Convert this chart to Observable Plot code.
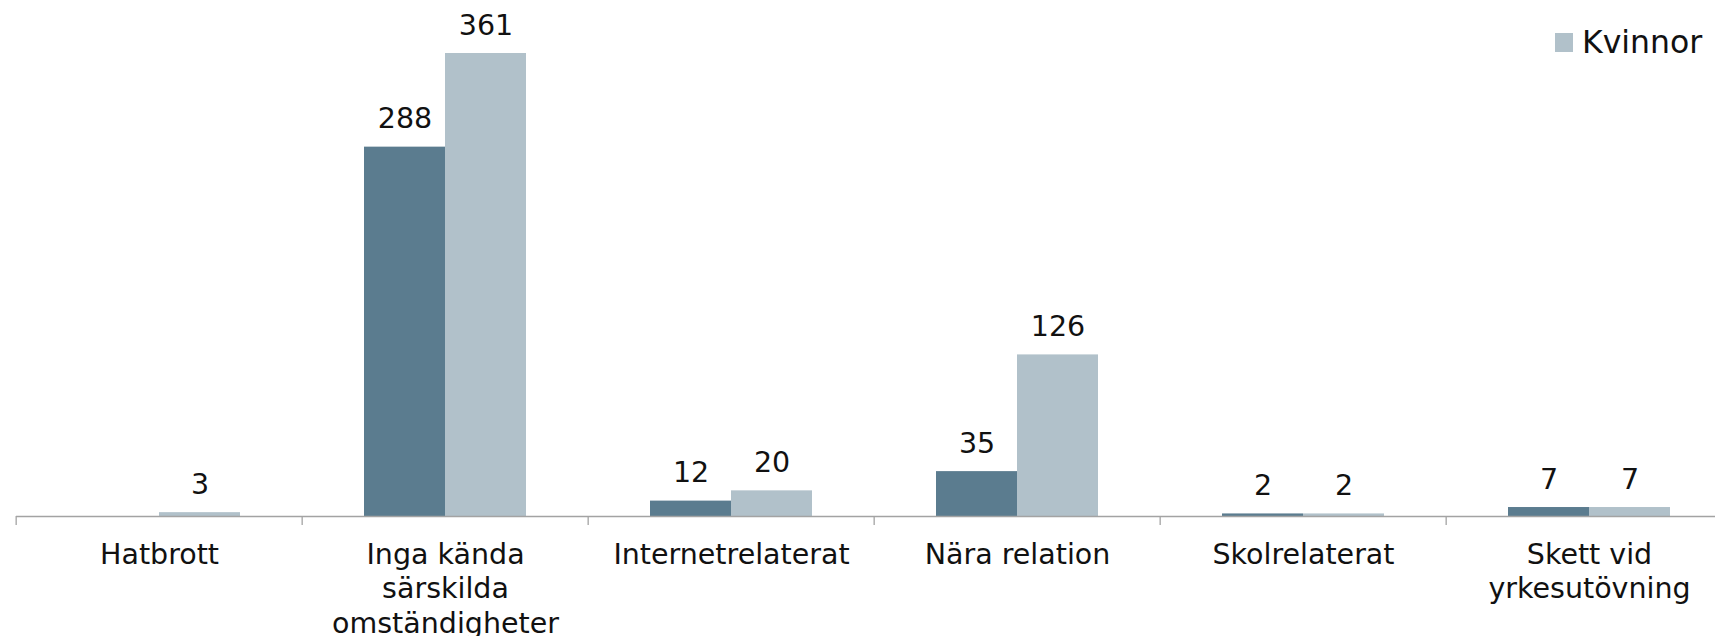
<!DOCTYPE html>
<html>
<head>
<meta charset="utf-8">
<script src="https://cdn.jsdelivr.net/npm/d3@7"></script>
<script src="https://cdn.jsdelivr.net/npm/@observablehq/plot@0.6"></script>
<style>
  html, body { margin: 0; padding: 0; background: #fff; overflow: hidden; width: 1715px; height: 636px; }
  #wrap { position: relative; width: 1715px; height: 636px; overflow: hidden; }
  #chart { position: absolute; left: 0; top: 0; width: 1735px; }
  #chart svg { max-width: none !important; width: 1735px; height: 636px; }
  #legend { position: absolute; left: 1555px; top: -38px; font-family: 'DejaVu Sans', Verdana, sans-serif; font-size: 31.5px; color: #111; }
  .item { display: flex; align-items: center; height: 53.5px; white-space: nowrap; }
  .sw { width: 18px; height: 19px; margin-right: 9px; }
</style>
</head>
<body>
<div id="wrap">
  <div id="chart"></div>
  <div id="legend"></div>
</div>
<script>
const categories = ["Hatbrott", "Inga kända särskilda omständigheter", "Internetrelaterat", "Nära relation", "Skolrelaterat", "Skett vid yrkesutövning"];
const tickLabels = ["Hatbrott", "Inga kända\nsärskilda\nomständigheter", "Internetrelaterat", "Nära relation", "Skolrelaterat", "Skett vid\nyrkesutövning"];
const seriesNames = ["Män", "Kvinnor"];
const manValues = [null, 288, 12, 35, 2, 7];
const kvinnorValues = [3, 361, 20, 126, 2, 7];
const seriesColors = ["#5b7c8f", "#b1c1ca"];

const rows = categories.flatMap((c, i) => [
  {category: c, series: seriesNames[0], value: manValues[i]},
  {category: c, series: seriesNames[1], value: kvinnorValues[i]}
]).filter(d => d.value != null);

const W = 1735, H = 636, ML = 14, MR = 1;
const bw = (W - ML - MR) / categories.length;

const chart = Plot.plot({
  width: W,
  height: H,
  marginLeft: ML,
  marginRight: MR,
  marginTop: 3,
  marginBottom: 120,
  style: {fontFamily: "'DejaVu Sans', Verdana, sans-serif", fontSize: "28.5px", color: "#111", background: "white", maxWidth: "none"},
  facet: {data: rows, x: "category"},
  fx: {domain: categories, padding: 0},
  x: {domain: seriesNames, paddingInner: 0, paddingOuter: 0.76, axis: null},
  y: {domain: [0, 400], axis: null},
  color: {domain: seriesNames, range: seriesColors},
  marks: [
    Plot.barY(rows, {x: "series", y: "value", fill: "series"}),
    Plot.ruleY([0], {stroke: "#a3a3a3", strokeWidth: 1.3}),
    Plot.text(rows, {x: "series", y: "value", text: d => String(d.value), dy: -28, fill: "#111"}),
    Plot.axisFx({anchor: "bottom", tickSize: 9, tickFormat: () => "", dx: -bw / 2, stroke: "#a3a3a3", strokeWidth: 1.3, label: null}),
    Plot.axisFx({anchor: "bottom", tickSize: 0, tickPadding: 22.5, lineHeight: 1.22, fill: "#111", label: null,
      tickFormat: d => tickLabels[categories.indexOf(d)]})
  ]
});
document.getElementById("chart").appendChild(chart);

const legend = document.getElementById("legend");
seriesNames.forEach((s, i) => {
  const item = document.createElement("div");
  item.className = "item";
  const sw = document.createElement("span");
  sw.className = "sw";
  sw.style.background = seriesColors[i];
  const label = document.createElement("span");
  label.textContent = s;
  item.appendChild(sw);
  item.appendChild(label);
  legend.appendChild(item);
});
</script>
</body>
</html>
